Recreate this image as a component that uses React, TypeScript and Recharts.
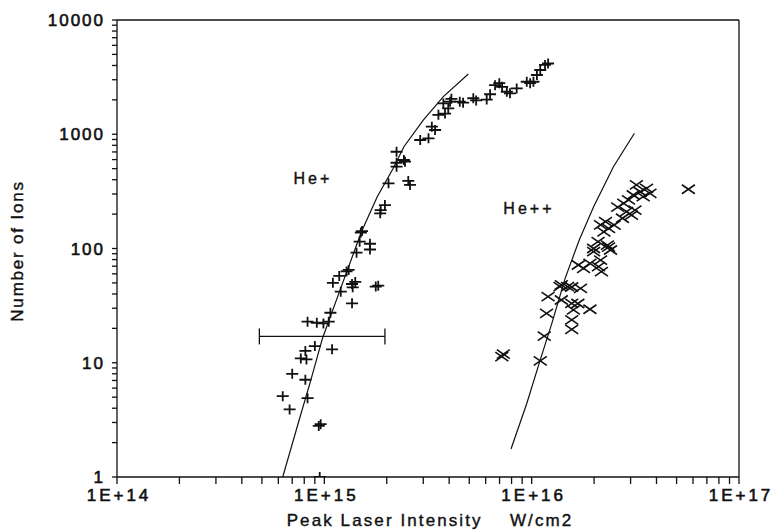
import {
  ScatterChart,
  Scatter,
  XAxis,
  YAxis,
  ErrorBar,
  ReferenceLine,
  ReferenceDot,
  Label,
} from 'recharts';

// He+ ion counts vs peak intensity (W/cm2)
const HE_PLUS: [number, number][] = [
  [6.3e14, 5.1], [6.8e14, 3.9], [7.0e14, 8.0], [7.7e14, 10.9], [8.2e14, 10.7],
  [8.1e14, 12.7], [8.1e14, 7.1], [8.3e14, 4.9], [9.0e14, 14.0], [1.09e15, 13.1],
  [9.4e14, 2.8], [9.6e14, 2.9], [9.5e14, 1.0], [8.3e14, 22.9], [9.2e14, 22.4],
  [9.9e14, 22.1], [1.07e15, 27.4], [1.05e15, 22.9], [1.2e15, 41.9], [1.36e15, 33.1],
  [1.1e15, 50.1], [1.18e15, 57.5], [1.31e15, 64.9], [1.28e15, 63], [1.36e15, 48.9],
  [1.41e15, 51], [1.37e15, 45.7], [1.43e15, 91.9], [1.48e15, 114.7], [1.5e15, 138],
  [1.52e15, 142], [1.66e15, 110], [1.66e15, 98], [1.77e15, 46.4], [1.82e15, 47.3],
  [1.87e15, 217], [1.96e15, 240], [1.86e15, 203], [2.04e15, 372], [2.54e15, 390],
  [2.59e15, 360], [2.23e15, 703], [2.23e15, 563], [2.45e15, 575], [2.23e15, 520],
  [2.42e15, 595], [2.9e15, 891], [3.18e15, 922], [3.3e15, 1164], [3.42e15, 1089],
  [3.55e15, 1480], [3.82e15, 1518], [3.75e15, 1862], [3.96e15, 1686], [4.04e15, 1929],
  [4.1e15, 2043], [4.5e15, 1929], [4.67e15, 1890], [5.23e15, 2065], [5.4e15, 1977],
  [6.07e15, 2010], [6.3e15, 2240], [6.66e15, 2690], [6.98e15, 2800], [7.2e15, 2600],
  [7.59e15, 2356], [7.86e15, 2280], [8.47e15, 2520], [9.47e15, 2880], [9.83e15, 2800],
  [1.02e16, 2880], [1.06e16, 3300], [1.1e16, 3650], [1.16e16, 4040], [1.2e16, 4160],
];

// He++ ion counts
const HE_PLUS_PLUS: [number, number][] = [
  [7.18e15, 11.3], [7.3e15, 11.9], [1.1e16, 10.4], [1.15e16, 17.1], [1.18e16, 27.1],
  [1.2e16, 37.9], [1.37e16, 46.3], [1.39e16, 35.4], [1.49e16, 46.3], [1.56e16, 33.1],
  [1.59e16, 29], [1.56e16, 23.7], [1.56e16, 19.6], [1.67e16, 33], [1.72e16, 44.8],
  [1.91e16, 29.4], [1.68e16, 71.7], [1.78e16, 67], [1.91e16, 74], [2.1e16, 69.3],
  [2.17e16, 62.7], [1.99e16, 93.8], [2.4e16, 97], [2.09e16, 115], [2.32e16, 107],
  [1.99e16, 100], [2.35e16, 103], [2.23e16, 140], [2.35e16, 150], [2.15e16, 161],
  [2.27e16, 172], [2.74e16, 184], [3.03e16, 196], [2.87e16, 210], [3.15e16, 217],
  [2.78e16, 248], [2.93e16, 266], [3.09e16, 294], [3.45e16, 284], [3.2e16, 360],
  [3.34e16, 314], [3.58e16, 336], [3.72e16, 304], [5.7e16, 330], [2.15e16, 79],
  [1.39e16, 48], [1.56e16, 46], [2.5e16, 160], [2.6e16, 230],
];

// model curves
const HE_PLUS_FIT: [number, number][] = [
  [6.3e14, 1], [7.5e14, 3], [8.6e14, 7], [9.8e14, 16.4], [1.2e15, 45], [1.51e15, 140],
  [1.8e15, 284], [2.15e15, 504], [2.42e15, 778], [3.0e15, 1330], [3.75e15, 2133], [4.95e15, 3370],
];
const HE_PLUS_PLUS_FIT: [number, number][] = [
  [7.95e15, 1.76], [9.47e15, 4.4], [1.1e16, 10.6], [1.25e16, 22], [1.45e16, 54.8],
  [1.7e16, 120], [1.99e16, 232], [2.48e16, 520], [3.13e16, 1020],
];

// intensity uncertainty: centre, minus, plus
const INTENSITY_ERR = { x: 9.8e14, y: 17, err: [4.94e14, 9.8e14] };

const X_DECADES = [1e14, 1e15, 1e16, 1e17];
const X_LABELS = ['1E+14', '1E+15', '1E+16', '1E+17'];
const Y_DECADES = [1, 10, 100, 1000, 10000];
const Y_LABELS = ['1', '10', '100', '1000', '10000'];
const MINOR = [2, 3, 4, 5, 6, 7, 8, 9];

const withMinors = (decades: number[]) => {
  const out: number[] = [];
  decades.forEach((d, i) => {
    out.push(d);
    if (i < decades.length - 1) MINOR.forEach(m => out.push(d * m));
  });
  return out;
};

const toPts = (arr: [number, number][]) => arr.map(([x, y]) => ({ x, y }));

const FONT = '"Liberation Sans", Arial, sans-serif';
const INK = '#111';

const PlusMark = (props: any) => {
  const { cx, cy } = props;
  return (
    <path
      d={`M${cx - 6},${cy}H${cx + 6}M${cx},${cy - 5}V${cy + 5}`}
      stroke={INK}
      strokeWidth={1.8}
      fill="none"
    />
  );
};

const CrossMark = (props: any) => {
  const { cx, cy } = props;
  return (
    <path
      d={`M${cx - 6.5},${cy - 4.5}L${cx + 6.5},${cy + 4.5}M${cx - 6.5},${cy + 4.5}L${cx + 6.5},${cy - 4.5}`}
      stroke={INK}
      strokeWidth={1.6}
      fill="none"
    />
  );
};

const NoMark = () => <g />;

const XTick = (props: any) => {
  const { x, y, payload } = props;
  const i = X_DECADES.findIndex(d => Math.abs(d - payload.value) / d < 1e-6);
  if (i < 0) return <g />;
  return (
    <text x={x + 2} y={y} dy="0.71em" textAnchor="middle" fontSize={17} letterSpacing={3}
      fontFamily={FONT} fill={INK} stroke={INK} strokeWidth={0.6}>
      {X_LABELS[i]}
    </text>
  );
};

const YTick = (props: any) => {
  const { x, y, payload } = props;
  const i = Y_DECADES.findIndex(d => Math.abs(d - payload.value) / d < 1e-6);
  if (i < 0) return <g />;
  return (
    <text x={x - 3} y={y} dy="0.355em" textAnchor="end" fontSize={17} letterSpacing={2}
      fontFamily={FONT} fill={INK} stroke={INK} strokeWidth={0.6}>
      {Y_LABELS[i]}
    </text>
  );
};

const noteStyle = {
  position: 'center' as const,
  fontSize: 16,
  fill: INK,
  stroke: INK,
  strokeWidth: 0.4,
  fontFamily: FONT,
  letterSpacing: 3,
};

export default function App() {
  return (
    <div style={{ position: 'absolute', left: 0, top: 0, background: '#fff' }}>
      <ScatterChart
        width={776}
        height={530}
        margin={{ top: 20, right: 37, bottom: 0, left: 0 }}
      >
        <XAxis
          type="number"
          dataKey="x"
          scale="log"
          domain={[1e14, 1e17]}
          allowDataOverflow
          ticks={withMinors(X_DECADES)}
          interval={0}
          tick={<XTick />}
          tickSize={7}
          tickMargin={5}
          height={53}
          stroke={INK}
          strokeWidth={1.3}
        >
          <Label
            content={() => (
              <text x={430} y={526} textAnchor="middle" fontSize={17} letterSpacing={2.1}
                fontFamily={FONT} fill={INK} stroke={INK} strokeWidth={0.4}
                style={{ whiteSpace: 'pre' }}>
                {'Peak Laser Intensity    W/cm2'}
              </text>
            )}
          />
        </XAxis>
        <YAxis
          type="number"
          dataKey="y"
          scale="log"
          domain={[1, 10000]}
          allowDataOverflow
          ticks={withMinors(Y_DECADES)}
          interval={0}
          tick={<YTick />}
          tickSize={5}
          tickMargin={4}
          width={117}
          stroke={INK}
          strokeWidth={1.3}
        >
          <Label
            content={() => (
              <text x={0} y={0} transform="translate(23,251) rotate(-90)" textAnchor="middle"
                fontSize={17} letterSpacing={1.8} fontFamily={FONT} fill={INK}
                stroke={INK} strokeWidth={0.4}>
                Number of Ions
              </text>
            )}
          />
        </YAxis>

        <ReferenceLine y={10000} stroke={INK} strokeWidth={1.3} />
        <ReferenceLine x={1e17} stroke={INK} strokeWidth={1.3} />

        <Scatter data={toPts(HE_PLUS)} shape={<PlusMark />} isAnimationActive={false} />
        <Scatter data={toPts(HE_PLUS_PLUS)} shape={<CrossMark />} isAnimationActive={false} />

        <Scatter
          data={toPts(HE_PLUS_FIT)}
          shape={<NoMark />}
          line={{ stroke: INK, strokeWidth: 1.2 }}
          lineType="joint"
          isAnimationActive={false}
        />
        <Scatter
          data={toPts(HE_PLUS_PLUS_FIT)}
          shape={<NoMark />}
          line={{ stroke: INK, strokeWidth: 1.2 }}
          lineType="joint"
          isAnimationActive={false}
        />

        <Scatter data={[INTENSITY_ERR]} shape={<NoMark />} isAnimationActive={false}>
          <ErrorBar dataKey="err" direction="x" width={8} stroke={INK} strokeWidth={1.3}
            isAnimationActive={false} />
        </Scatter>

        <ReferenceDot x={8.8e14} y={414} r={0} fill="none" stroke="none" label={{ value: 'He+', ...noteStyle }} />
        <ReferenceDot x={9.7e15} y={225} r={0} fill="none" stroke="none" label={{ value: 'He++', ...noteStyle }} />
      </ScatterChart>
    </div>
  );
}
